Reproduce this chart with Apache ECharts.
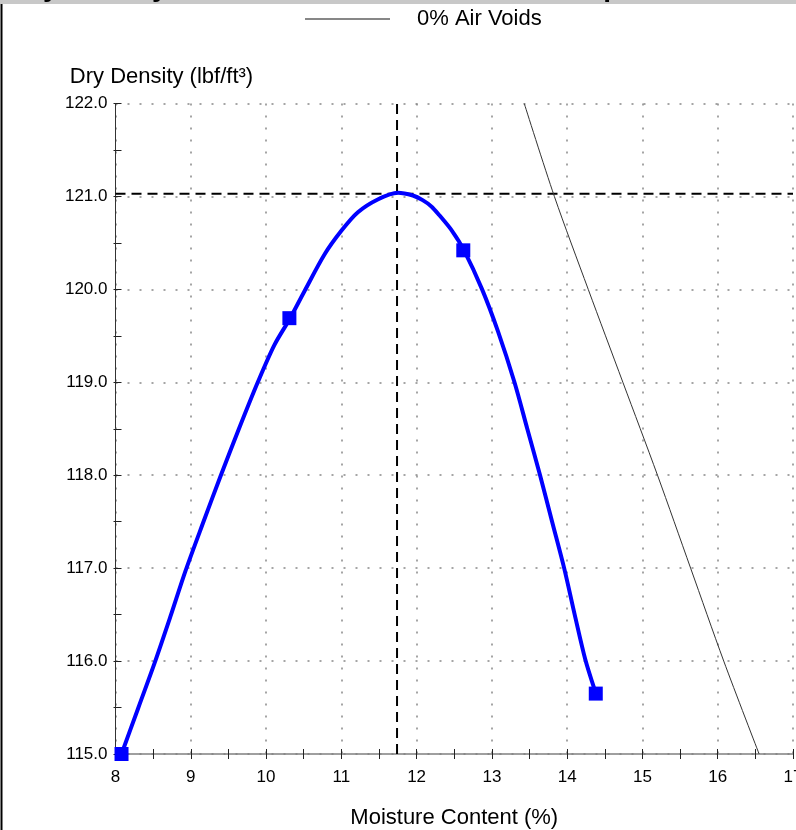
<!DOCTYPE html>
<html>
<head>
<meta charset="utf-8">
<script src="https://cdn.jsdelivr.net/npm/echarts@6/dist/echarts.min.js"></script>
<style>
html,body{margin:0;padding:0;background:#fff;}
#chart{width:796px;height:830px;}
</style>
</head>
<body>
<div id="chart"></div>
<script>
// ---- data ----
var titleText = 'Dry Density vs Moisture Content Relationship';
var xName = 'Moisture Content (%)';
var yName = 'Dry Density (lbf/ft³)';
var legendName = '0% Air Voids';

var xMin = 8, xMax = 17, xStep = 1;
var yMin = 115, yMax = 122, yStep = 1;

// fitted compaction curve
var curveX = [8.08, 8.30, 8.52, 8.73, 8.93, 9.16, 9.40, 9.64, 9.89, 10.11, 10.32, 10.51, 10.78, 11.00, 11.22, 11.49, 11.75, 11.95, 12.08, 12.20, 12.30, 12.47, 12.63, 12.87, 13.08, 13.30, 13.47, 13.64, 13.80, 13.96, 14.10, 14.24, 14.37];
var curveY = [115.00, 115.49, 115.98, 116.48, 116.97, 117.48, 118.00, 118.50, 119.00, 119.40, 119.69, 119.98, 120.38, 120.63, 120.83, 120.97, 121.04, 121.01, 120.96, 120.89, 120.80, 120.63, 120.42, 120.00, 119.55, 119.00, 118.50, 118.00, 117.50, 117.00, 116.50, 116.02, 115.68];

// test points
var pointX = [8.08, 10.31, 12.62, 14.38];
var pointY = [115.00, 119.69, 120.42, 115.65];

// zero air voids line
var zavX = [13.43, 13.83, 14.28, 14.74, 15.20, 15.64, 16.08, 16.55];
var zavY = [122.0, 121.0, 120.0, 119.0, 118.0, 117.0, 116.0, 115.0];

// optimum
var optMoisture = 11.74;
var maxDensity = 121.03;

// ---- build ----
function zip(a, b) { return a.map(function (v, i) { return [v, b[i]]; }); }
var FONT = '"Liberation Sans", Arial, sans-serif';

var chart = echarts.init(document.getElementById('chart'), null, {renderer: 'canvas'});

var baseX = {
  type: 'value', min: xMin, max: xMax, interval: xStep, gridIndex: 0, position: 'bottom'
};
var baseY = {
  type: 'value', min: yMin, max: yMax, interval: yStep, gridIndex: 0, position: 'left'
};

var option = {
  animation: false,
  backgroundColor: '#ffffff',
  title: {
    text: titleText,
    left: 12, top: -26, padding: 0, z: 10,
    textStyle: {fontFamily: FONT, fontSize: 28, fontWeight: 'bold', color: '#000'}
  },
  graphic: [
    {type: 'rect', z: 0, shape: {x: 0, y: 0, width: 796, height: 4}, style: {fill: '#c8c8c8'}},
    {type: 'line', z: 0, shape: {x1: 1.5, y1: 4, x2: 1.5, y2: 830}, style: {stroke: '#000', lineWidth: 2}}
  ],
  legend: {
    data: [legendName],
    left: 305, top: 8, padding: 0,
    icon: 'rect', itemWidth: 85, itemHeight: 1,
    itemStyle: {color: '#111'},
    textStyle: {fontFamily: FONT, fontSize: 22, color: '#000', padding: [0, 0, 0, 22]}
  },
  grid: {left: 115.5, right: 3, top: 103.5, bottom: 76, outerBoundsMode: 'none', containLabel: false},
  xAxis: [
    Object.assign({}, baseX, {
      name: xName, nameLocation: 'middle', nameGap: 53,
      nameTextStyle: {fontFamily: FONT, fontSize: 22, color: '#000'},
      axisLine: {show: true, lineStyle: {color: '#808080', width: 1.5}},
      axisTick: {show: true, inside: true, length: 5, lineStyle: {color: '#222'}},
      minorTick: {show: true, splitNumber: 2, length: 5, lineStyle: {color: '#222'}},
      axisLabel: {fontFamily: FONT, fontSize: 17, color: '#000', margin: 15},
      splitLine: {show: true, lineStyle: {color: '#888', width: 1.5, type: [2, 10]}}
    }),
    Object.assign({}, baseX, {
      axisLine: {show: false},
      axisTick: {show: true, inside: false, length: 5, lineStyle: {color: '#222'}},
      minorTick: {show: true, splitNumber: 2, length: 5, lineStyle: {color: '#222'}},
      axisLabel: {show: false},
      splitLine: {show: false}
    })
  ],
  yAxis: [
    Object.assign({}, baseY, {
      name: yName, nameLocation: 'end', nameGap: 16,
      nameTextStyle: {fontFamily: FONT, fontSize: 22, color: '#000', align: 'center', verticalAlign: 'bottom', padding: [0, 0, 0, 92]},
      axisLine: {show: true, lineStyle: {color: '#333', width: 1}},
      axisTick: {show: true, inside: true, length: 6, lineStyle: {color: '#222'}},
      minorTick: {show: true, splitNumber: 2, length: 6, lineStyle: {color: '#222'}},
      axisLabel: {fontFamily: FONT, fontSize: 17, color: '#000', margin: 8,
        formatter: function (v) { return v.toFixed(1); }},
      splitLine: {show: true, lineStyle: {color: '#888', width: 1.5, type: [2, 10]}}
    }),
    Object.assign({}, baseY, {
      axisLine: {show: false},
      axisTick: {show: true, inside: false, length: 2, lineStyle: {color: '#222'}},
      minorTick: {show: true, splitNumber: 2, length: 2, lineStyle: {color: '#222'}},
      axisLabel: {show: false},
      splitLine: {show: false}
    })
  ],
  series: [
    {
      name: 'Max density', type: 'line', xAxisIndex: 0, yAxisIndex: 0,
      data: [[xMin, maxDensity], [xMax, maxDensity]],
      showSymbol: false, symbol: 'none', silent: true, z: 3,
      lineStyle: {color: '#000', width: 2, type: [10, 6]}
    },
    {
      name: 'Optimum moisture', type: 'line', xAxisIndex: 0, yAxisIndex: 0,
      data: [[optMoisture, yMin], [optMoisture, yMax]],
      showSymbol: false, symbol: 'none', silent: true, z: 3,
      lineStyle: {color: '#000', width: 2, type: [10, 6]}
    },
    {
      name: legendName, type: 'line', xAxisIndex: 0, yAxisIndex: 0,
      data: zip(zavX, zavY),
      smooth: 0.3, showSymbol: false, symbol: 'none', z: 4,
      lineStyle: {color: '#333', width: 1}
    },
    {
      name: 'Compaction curve', type: 'line', xAxisIndex: 0, yAxisIndex: 0,
      data: zip(curveX, curveY),
      smooth: 0.3, showSymbol: false, symbol: 'none', z: 5,
      lineStyle: {color: '#0000ff', width: 4}
    },
    {
      name: 'Test points', type: 'scatter', xAxisIndex: 0, yAxisIndex: 0,
      data: zip(pointX, pointY),
      symbol: 'rect', symbolSize: 14, z: 6,
      itemStyle: {color: '#0000ff', opacity: 1}
    }
  ]
};
chart.setOption(option);
</script>
</body>
</html>
